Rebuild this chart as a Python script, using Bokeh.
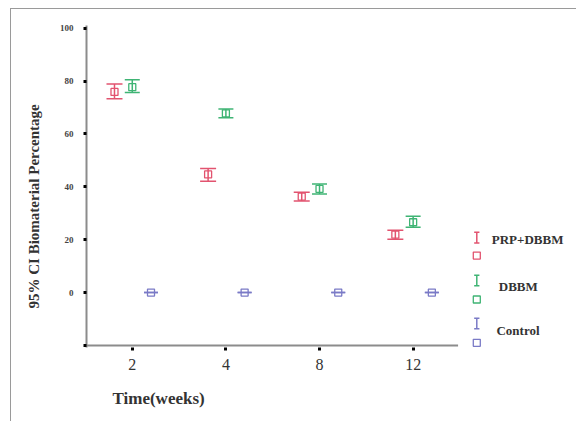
from bokeh.plotting import figure
from bokeh.models import (ColumnDataSource, Whisker, TeeHead, FixedTicker, Range1d, Title)
from bokeh.core.properties import value
from bokeh.embed import file_html
from bokeh.resources import INLINE

# ---- data ----
weeks = ["2", "4", "8", "12"]
prp_mean = [75.9, 44.7, 36.3, 21.9]
prp_lower = [73.3, 42.1, 34.6, 20.2]
prp_upper = [78.9, 46.9, 38.0, 23.6]
dbbm_mean = [77.7, 67.8, 39.2, 26.6]
dbbm_lower = [75.7, 66.1, 37.3, 24.7]
dbbm_upper = [80.5, 69.4, 41.1, 28.9]
ctrl_mean = [0.0, 0.0, 0.0, 0.0]
ctrl_lower = [0.0, 0.0, 0.0, 0.0]
ctrl_upper = [0.0, 0.0, 0.0, 0.0]
y_ticks = [-20, 0, 20, 40, 60, 80, 100]
series_names = ["PRP+DBBM", "DBBM", "Control"]

RED = "#e2536f"
GREEN = "#3fb474"
BLUE = "#7a7ac6"
AXIS = "#8c8c8c"
SERIF = "Liberation Serif"

p = figure(width=576, height=421, output_backend="svg", toolbar_location=None,
           x_range=Range1d(-0.489, 4.745), y_range=Range1d(-20.76, 101.02),
           min_border_left=86, min_border_right=0, min_border_top=25, min_border_bottom=74,
           background_fill_color="white", border_fill_color=None)
p.outline_line_color = None
p.grid.grid_line_color = None
p.styles = {
    "background-color": "white",
    "background-image": "linear-gradient(#9a9a9a,#9a9a9a), linear-gradient(#9a9a9a,#9a9a9a)",
    "background-size": "1px 100%, 100% 1px",
    "background-position": "10px 8px, 10px 8px",
    "background-repeat": "no-repeat",
}

# axes
xa = p.xaxis[0]
xa.ticker = FixedTicker(ticks=[0, 1, 2, 3])
xa.major_label_overrides = {i: w for i, w in enumerate(weeks)}
xa.axis_line_color = None
xa.major_tick_line_color = "black"
xa.major_tick_line_width = 3
xa.major_tick_out = 3
xa.major_tick_in = 0
xa.minor_tick_line_color = None
xa.major_label_text_font = SERIF
xa.major_label_text_font_size = "16px"
xa.major_label_text_color = "#333333"
xa.major_label_standoff = 8

ya = p.yaxis[0]
ya.ticker = FixedTicker(ticks=y_ticks)
ya.major_label_overrides = {-20: ""}
ya.axis_line_color = AXIS
ya.axis_line_width = 2
ya.major_tick_line_color = "black"
ya.major_tick_line_width = 3
ya.major_tick_out = 3
ya.major_tick_in = 0
ya.minor_tick_line_color = None
ya.major_label_text_font = SERIF
ya.major_label_text_font_size = "9px"
ya.major_label_text_font_style = "bold"
ya.major_label_text_color = "#444444"
ya.major_label_standoff = 10

# x axis line (stops before legend)
p.segment(x0=[-0.489], y0=[-20], x1=[3.48], y1=[-20], line_color=AXIS, line_width=2)

offsets = [-0.19, 0.0, 0.2]
means = [prp_mean, dbbm_mean, ctrl_mean]
lowers = [prp_lower, dbbm_lower, ctrl_lower]
uppers = [prp_upper, dbbm_upper, ctrl_upper]
colors = [RED, GREEN, BLUE]
heads = [16, 15, 14]

for off, m, lo, up, c, hs in zip(offsets, means, lowers, uppers, colors, heads):
    src = ColumnDataSource(dict(x=[i + off for i in range(len(weeks))], m=m, lo=lo, up=up))
    w = Whisker(source=src, base="x", lower="lo", upper="up", dimension="height",
                line_color=c, line_width=1.5,
                lower_head=TeeHead(size=hs, line_color=c, line_width=1.5),
                upper_head=TeeHead(size=hs, line_color=c, line_width=1.5))
    p.add_layout(w)
    p.scatter(x="x", y="m", source=src, marker="square", size=7,
              fill_color=None, line_color=c, line_width=1.3)

# manual legend (right of plot)
icon_x = 3.68
bar_half = 2.0
cap = 0.028
icon_y = [20.8, 4.6, -11.7]
sq_y = [14.0, -2.6, -19.0]
lab_x = [3.84, 3.915, 3.89]
lab_y = [20.0, 2.2, -14.4]
for name, c, iy, sy, lx, ly in zip(series_names, colors, icon_y, sq_y, lab_x, lab_y):
    p.segment(x0=[icon_x], y0=[iy - bar_half], x1=[icon_x], y1=[iy + bar_half], line_color=c, line_width=1.5)
    p.segment(x0=[icon_x - cap, icon_x - cap], y0=[iy - bar_half, iy + bar_half],
              x1=[icon_x + cap, icon_x + cap], y1=[iy - bar_half, iy + bar_half], line_color=c, line_width=1.5)
    p.scatter(x=[icon_x], y=[sy], marker="square", size=7, fill_color=None, line_color=c, line_width=1.3)
    p.text(x=[lx], y=[ly], text=[name], text_font=value(SERIF), text_font_style="bold",
           text_font_size="13px", text_color="#333333", text_baseline="middle", text_align="left")

ytitle = Title(text="95% CI  Biomaterial Percentage", align="left", offset=39, standoff=30,
               text_font=SERIF, text_font_style="bold", text_font_size="15px", text_color="#333333")
p.add_layout(ytitle, "left")
xtitle = Title(text="Time(weeks)", align="left", offset=26, standoff=28,
               text_font=SERIF, text_font_style="bold", text_font_size="17px", text_color="#333333")
p.add_layout(xtitle, "below")

open("out.html", "w").write(file_html(p, INLINE))
